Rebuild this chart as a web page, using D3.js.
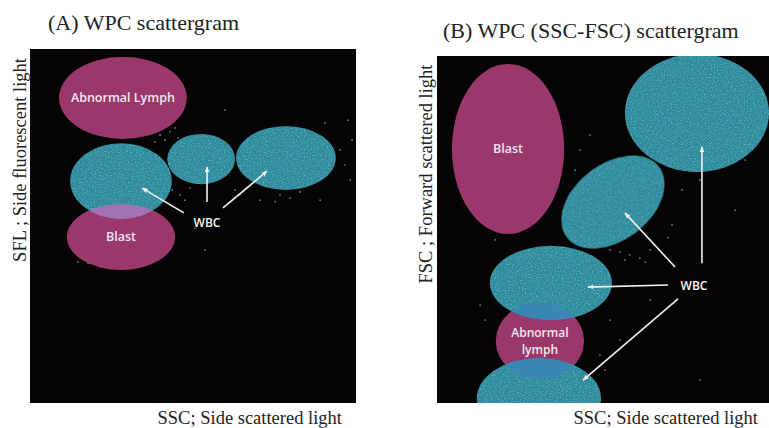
<!DOCTYPE html>
<html>
<head>
<meta charset="utf-8">
<script src="https://cdn.jsdelivr.net/npm/d3@7"></script>
<style>
  body { margin: 0; background: #fff; }
  svg { display: block; }
  .title { font-family: "Liberation Serif", "DejaVu Serif", serif; font-size: 22px; fill: #222; }
  .axis-label { font-family: "Liberation Serif", "DejaVu Serif", serif; font-size: 18.5px; fill: #222; }
  .region-label { font-family: "Open Sans", sans-serif; font-weight: 600; font-size: 12.5px; fill: #f4e6ef; }
  .wbc-label { font-family: "Open Sans", sans-serif; font-weight: 600; font-size: 12px; fill: #f6f6f6; }
</style>
</head>
<body>
<div id="chart"></div>
<script>
// ---- Data (plot units 0..100 on both axes) ----
const panelTitles = ['(A) WPC scattergram', '(B) WPC (SSC-FSC) scattergram'];
const xAxisLabels = ['SSC; Side scattered light', 'SSC; Side scattered light'];
const yAxisLabels = ['SFL ; Side fluorescent light', 'FSC ; Forward scattered light'];

// regions: [name, type, cx, cy, rx, ry, rotation]
const regionsA = [
    ['Abnormal Lymph', 'abn', 28.5, 86.2, 19.6, 11.6, 0],
    ['Blast', 'abn', 27.9, 46.9, 16.6, 9.3, 0],
    ['WBC1', 'wbc', 27.9, 62.7, 15.6, 10.7, 0],
    ['WBC2', 'wbc', 52.5, 68.9, 10.4, 7.1, 0],
    ['WBC3', 'wbc', 78.5, 69.2, 15.3, 9.0, 0]
];
const regionsB = [
    ['Blast', 'abn', 21.4, 73.2, 16.9, 24.5, 0],
    ['Abnormal lymph', 'abn', 31.0, 17.9, 13.3, 11.2, 0],
    ['WBC1', 'wbc', 78.3, 83.6, 21.7, 17.0, 0],
    ['WBC2', 'wbc', 53.0, 57.9, 17.5, 11.0, -37.5],
    ['WBC3', 'wbc', 34.3, 34.6, 18.4, 10.7, 0],
    ['WBC4', 'wbc', 30.7, 1.4, 18.7, 11.5, 0]
];
// overlaps: [lower region, upper region]
const overlapsA = [['Blast', 'WBC1']];
const overlapsB = [['Abnormal lymph', 'WBC3'], ['Abnormal lymph', 'WBC4']];

// WBC label position and arrows [x1, y1, x2, y2]
const wbcLabelA = [54.3, 50.8];
const arrowsA = [
    [47.2, 53.7, 34.4, 60.7],
    [54.3, 56.8, 54.3, 66.7],
    [59.2, 55.1, 72.7, 65.5]
];
const wbcLabelB = [77.4, 33.7];
const arrowsB = [
    [79.8, 40.3, 79.8, 73.8],
    [71.7, 39.2, 56.6, 54.8],
    [69.6, 34.0, 45.5, 33.4],
    [72.6, 30.0, 44.0, 6.6]
];

// stray events outside the gates
const strayA = [
    [39.9, 75.7], [41.4, 74.3], [42.9, 76.6], [38.3, 73.7], [44.5, 77.7], [45.4, 74.9],
    [43.6, 60.2], [46.0, 58.8], [47.5, 57.3], [49.1, 60.7], [62.9, 60.2], [64.4, 58.8],
    [76.7, 58.8], [79.8, 57.9], [82.8, 59.6], [75.2, 56.9], [95.1, 71.5], [96.6, 67.2],
    [98.8, 74.3], [98.2, 63.0], [97.5, 79.9], [90.5, 79.1], [14.7, 39.8], [17.8, 39.5],
    [50.6, 49.4], [53.7, 43.2], [35.3, 52.3], [59.8, 82.8], [70.6, 57.3], [89.0, 57.3]
];
const strayB = [
    [49.1, 45.5], [52.1, 44.1], [55.1, 43.5], [58.1, 42.7], [61.1, 41.8], [62.7, 40.6],
    [56.6, 41.2], [64.2, 44.1], [69.6, 47.6], [70.8, 51.3], [43.1, 72.9], [41.6, 67.1],
    [44.6, 64.3], [40.1, 60.0], [46.1, 77.2], [73.8, 61.4], [79.2, 64.3], [89.8, 55.6],
    [92.8, 70.0], [13.0, 28.2], [14.5, 23.9], [52.1, 23.9], [55.1, 18.2], [49.1, 13.8],
    [50.6, 9.5], [46.1, 6.6], [17.5, 47.0], [79.2, 6.6], [64.2, 29.7]
];

// ---- Layout ----
const W = 769, H = 428;
const colors = { bg: '#060304', abn: '#9a386c', wbc: '#2f8b9b', overlapA: '#a173b0', overlapB: '#3b87b3', dot: '#6cc6cf' };

const panels = [
    { id: 'A', left: 30, right: 356, top: 49, bottom: 403,
      titleX: 48, titleY: 30, xLabelX: 342, yLabelX: 26, yLabelY: 160,
      regions: regionsA, overlaps: overlapsA, wbc: wbcLabelA, arrows: arrowsA, stray: strayA },
    { id: 'B', left: 437, right: 769, top: 56, bottom: 403,
      titleX: 443, titleY: 38, xLabelX: 758, yLabelX: 432, yLabelY: 174,
      regions: regionsB, overlaps: overlapsB, wbc: wbcLabelB, arrows: arrowsB, stray: strayB }
];

const svg = d3.select('#chart').append('svg').attr('width', W).attr('height', H);
const defs = svg.append('defs');

// soft speckle texture for WBC gates
const f = defs.append('filter').attr('id', 'speckle')
    .attr('color-interpolation-filters', 'sRGB')
    .attr('x', 0).attr('y', 0).attr('width', 1).attr('height', 1);
f.append('feTurbulence').attr('type', 'fractalNoise').attr('baseFrequency', 0.7)
    .attr('numOctaves', 2).attr('seed', 7).attr('result', 'noise');
f.append('feColorMatrix').attr('in', 'noise').attr('type', 'matrix')
    .attr('values', '0 0 0 0 0.38  0 0 0 0 0.70  0 0 0 0 0.77  0 0 0 3 -1.5')
    .attr('result', 'dots');
f.append('feComposite').attr('in', 'dots').attr('in2', 'SourceGraphic').attr('operator', 'atop');

defs.append('marker').attr('id', 'arrow')
    .attr('viewBox', '0 0 10 10').attr('refX', 9).attr('refY', 5)
    .attr('markerWidth', 6).attr('markerHeight', 6).attr('orient', 'auto-start-reverse')
    .attr('markerUnits', 'userSpaceOnUse')
    .append('path').attr('d', 'M0,1 L10,5 L0,9 Z').attr('fill', '#f2f2f2');

panels.forEach(p => {
    const x = d3.scaleLinear().domain([0, 100]).range([p.left, p.right]);
    const y = d3.scaleLinear().domain([0, 100]).range([p.bottom, p.top]);

    const ellipseAttrs = (sel) => sel
        .attr('cx', 0).attr('cy', 0)
        .attr('rx', d => x(d[4]) - x(0))
        .attr('ry', d => y(0) - y(d[5]))
        .attr('transform', d => `translate(${x(d[2])},${y(d[3])}) rotate(${d[6]})`);

    defs.append('clipPath').attr('id', 'clip' + p.id)
        .append('rect').attr('x', p.left).attr('y', p.top)
        .attr('width', p.right - p.left).attr('height', p.bottom - p.top);

    svg.append('text').attr('class', 'title')
        .attr('x', p.titleX).attr('y', p.titleY).text(panelTitles[p.id === 'A' ? 0 : 1]);

    const g = svg.append('g').attr('clip-path', `url(#clip${p.id})`);
    g.append('rect').attr('x', p.left).attr('y', p.top)
        .attr('width', p.right - p.left).attr('height', p.bottom - p.top)
        .attr('fill', colors.bg);

    // stray dots
    g.selectAll('circle.stray').data(p.stray).enter().append('circle')
        .attr('class', 'stray')
        .attr('cx', d => x(d[0])).attr('cy', d => y(d[1])).attr('r', 0.9)
        .attr('fill', colors.dot).attr('opacity', 0.7);

    // abnormal gates
    g.selectAll('ellipse.abn').data(p.regions.filter(d => d[1] === 'abn')).enter()
        .append('ellipse').attr('class', 'abn')
        .call(ellipseAttrs).attr('fill', colors.abn);

    // WBC gates with speckle
    g.selectAll('ellipse.wbc').data(p.regions.filter(d => d[1] === 'wbc')).enter()
        .append('ellipse').attr('class', 'wbc')
        .call(ellipseAttrs).attr('fill', colors.wbc).attr('filter', 'url(#speckle)');

    // overlaps: lower region clipped by upper region
    p.overlaps.forEach((o, i) => {
        const lower = p.regions.find(r => r[0] === o[0]);
        const upper = p.regions.find(r => r[0] === o[1]);
        const cid = `ov${p.id}${i}`;
        defs.append('clipPath').attr('id', cid)
            .selectAll('ellipse').data([upper]).enter().append('ellipse').call(ellipseAttrs);
        g.append('g').attr('clip-path', `url(#${cid})`)
            .selectAll('ellipse').data([lower]).enter().append('ellipse').call(ellipseAttrs)
            .attr('fill', p.id === 'A' ? colors.overlapA : colors.overlapB);
    });

    // region labels (two-line label as separate texts)
    p.regions.filter(d => d[1] === 'abn').forEach(d => {
        const words = d[0] === 'Abnormal lymph' ? ['Abnormal', 'lymph'] : [d[0]];
        words.forEach((w, k) => {
            g.append('text').attr('class', 'region-label')
                .attr('text-anchor', 'middle')
                .style('font-size', words.length > 1 ? '12px' : null)
                .attr('x', x(d[2]))
                .attr('y', y(d[3]) + 4.5 + (k - (words.length - 1) / 2) * 17)
                .text(w);
        });
    });

    // arrows
    g.selectAll('line.arrow').data(p.arrows).enter().append('line')
        .attr('class', 'arrow')
        .attr('x1', d => x(d[0])).attr('y1', d => y(d[1]))
        .attr('x2', d => x(d[2])).attr('y2', d => y(d[3]))
        .attr('stroke', '#f2f2f2').attr('stroke-width', 1.6)
        .attr('marker-end', 'url(#arrow)');

    g.append('text').attr('class', 'wbc-label').attr('text-anchor', 'middle')
        .attr('x', x(p.wbc[0])).attr('y', y(p.wbc[1]) + 4).text('WBC');

    // axis labels
    const idx = p.id === 'A' ? 0 : 1;
    svg.append('text').attr('class', 'axis-label').attr('text-anchor', 'end')
        .attr('x', p.xLabelX).attr('y', 424).text(xAxisLabels[idx]);
    svg.append('text').attr('class', 'axis-label').attr('text-anchor', 'middle')
        .attr('transform', `translate(${p.yLabelX},${p.yLabelY}) rotate(-90)`)
        .text(yAxisLabels[idx]);
});
</script>
</body>
</html>
